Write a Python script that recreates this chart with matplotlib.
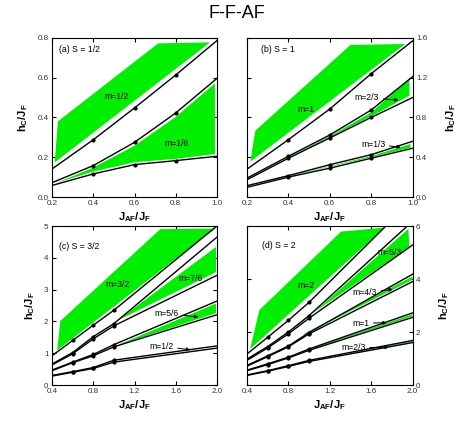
import matplotlib
matplotlib.use("Agg")
import matplotlib.pyplot as plt

plt.rcParams['font.family'] = ['Liberation Sans', 'DejaVu Sans']
plt.rcParams['mathtext.fontset'] = 'custom'
plt.rcParams['mathtext.rm'] = 'Liberation Sans'
plt.rcParams['mathtext.bf'] = 'Liberation Sans:bold'
plt.rcParams['mathtext.it'] = 'Liberation Sans:italic'

GREEN = '#00ee00'

# ---------------- data ----------------
# panel (a) S = 1/2
xa = [0.2, 0.4, 0.6, 0.8, 1.0]
a_l1 = [0.141, 0.288, 0.448, 0.614, 0.787]
a_l2 = [0.072, 0.158, 0.275, 0.423, 0.597]
a_l3 = [0.058, 0.116, 0.163, 0.183, 0.205]
a_g1_x = [0.213, 0.229, 0.715, 0.966]
a_g1_y = [0.174, 0.381, 0.773, 0.778]
a_g2_x = [0.22, 0.4, 0.6, 0.8, 0.99, 0.99, 0.8, 0.6, 0.4]
a_g2_y = [0.070, 0.148, 0.258, 0.403, 0.572, 0.216, 0.192, 0.175, 0.128]

# panel (b) S = 1
xb = [0.2, 0.4, 0.6, 0.8, 1.0]
b_l1 = [0.28, 0.577, 0.885, 1.24, 1.57]
b_l2 = [0.19, 0.41, 0.624, 0.875, 1.21]
b_l3 = [0.174, 0.39, 0.594, 0.80, 1.0]
b_l4 = [0.114, 0.215, 0.325, 0.426, 0.56]
b_l5 = [0.097, 0.20, 0.29, 0.39, 0.49]
b_g1_x = [0.216, 0.24, 0.70, 0.965]
b_g1_y = [0.356, 0.667, 1.53, 1.54]
b_g2_x = [0.4, 0.6, 0.8, 0.985, 0.985, 0.8, 0.6, 0.4]
b_g2_y = [0.40, 0.612, 0.85, 1.19, 1.02, 0.81, 0.602, 0.395]
b_g3_x = [0.4, 0.6, 0.8, 0.99, 0.99, 0.8, 0.6, 0.4]
b_g3_y = [0.21, 0.31, 0.412, 0.533, 0.495, 0.40, 0.305, 0.205]

# panel (c) S = 3/2
xc = [0.4, 0.6, 0.8, 1.0, 2.0]
c_l1 = [0.92, 1.40, 1.88, 2.35, 5.0]
c_l2 = [0.66, 1.02, 1.52, 1.93, 4.65]
c_l3 = [0.63, 0.98, 1.45, 1.86, 3.45]
c_l4 = [0.47, 0.72, 0.96, 1.27, 2.64]
c_l5 = [0.45, 0.70, 0.92, 1.20, 2.21]
c_l6 = [0.30, 0.42, 0.55, 0.78, 1.23]
c_l7 = [0.28, 0.40, 0.52, 0.72, 1.16]
c_g1_x = [0.45, 0.48, 1.45, 1.98]
c_g1_y = [1.09, 2.01, 4.90, 4.92]
c_g2_x = [1.03, 1.99, 1.99]
c_g2_y = [2.02, 4.34, 3.55]
c_g3_x = [1.01, 1.99, 1.99]
c_g3_y = [1.22, 2.56, 2.26]

# panel (d) S = 2
xd = [0.4, 0.6, 0.8, 1.0, 2.0]
d_l1_x = [0.4, 0.6, 0.8, 1.0, 1.73]
d_l1 = [1.17, 1.80, 2.44, 3.12, 5.95]
d_l2_x = [0.4, 0.6, 0.8, 1.0, 1.95]
d_l2 = [0.98, 1.45, 2.00, 2.62, 6.0]
d_l3 = [0.93, 1.40, 1.93, 2.52, 5.28]
d_l4 = [0.74, 1.10, 1.47, 1.98, 4.18]
d_l5 = [0.71, 1.07, 1.44, 1.93, 3.90]
d_l6 = [0.56, 0.80, 1.05, 1.36, 2.72]
d_l7 = [0.54, 0.77, 1.02, 1.31, 2.55]
d_l8 = [0.38, 0.54, 0.73, 0.93, 1.68]
d_l9 = [0.36, 0.52, 0.70, 0.89, 1.60]
d_g1_x = [0.43, 0.52, 1.31, 1.73]
d_g1_y = [1.36, 2.83, 5.79, 5.94]
d_g2_x = [1.04, 1.96, 1.97]
d_g2_y = [2.72, 5.89, 5.22]
d_g3_x = [0.95, 2.0, 2.0, 0.95]
d_g3_y = [1.93, 4.10, 3.97, 1.90]
d_g4_x = [1.0, 2.0, 2.0, 1.0]
d_g4_y = [1.35, 2.67, 2.59, 1.33]
d_g5_x = [1.4, 2.0, 2.0, 1.4]
d_g5_y = [1.21, 1.655, 1.625, 1.19]

# ---------------- figure ----------------
fig = plt.figure(figsize=(4.70, 4.23), dpi=100)
W, H = 470.0, 423.0

def mk_ax(l, r, t, b):
    return fig.add_axes([l / W, 1 - b / H, (r - l) / W, (b - t) / H])

axa = mk_ax(52, 217, 38, 197)
axb = mk_ax(247, 412.5, 38, 197)
axc = mk_ax(52, 217, 226, 385)
axd = mk_ax(247, 412.5, 226, 385)

fig.text(237 / W, 1 - 14 / H, 'F-F-AF', ha='center', va='center', fontsize=13)

XL = r'$\mathbf{J_{AF}/J_F}$'
YL = r'$\mathbf{h_C/J_F}$'


def line(ax, x, y, lw=1.0):
    ax.plot(x, y, color='black', lw=lw, marker='o', ms=2.0, markevery=list(range(1, len(x) - 1)),
            zorder=3, solid_joinstyle='round')


def green(ax, x, y):
    ax.fill(x, y, color=GREEN, lw=0, zorder=2)


def style(ax, xlim, ylim, xt, yt, xfmt, yfmt, right):
    ax.set_xlim(*xlim)
    ax.set_ylim(*ylim)
    ax.set_xticks(xt)
    ax.set_yticks(yt)
    ax.set_xticklabels([xfmt.format(v) for v in xt])
    ax.set_yticklabels([yfmt.format(v) for v in yt])
    ax.tick_params(direction='in', length=3, width=0.8, labelsize=5.8, labelcolor='#333333',
                   top=True, right=True, pad=2.5)
    if right:
        ax.yaxis.tick_right()
        ax.tick_params(axis='y', left=True, right=True, direction='in')
        ax.yaxis.set_label_position('right')
    for s in ax.spines.values():
        s.set_linewidth(0.8)
    ax.set_xlabel(XL, fontsize=8, labelpad=2)
    ax.set_ylabel(YL, fontsize=8, labelpad=5 if not right else 12, rotation=90)


def ann(ax, txt, xy, xytext):
    ax.annotate(txt, xy=xy, xytext=xytext, fontsize=6.2, ha='center', va='center', zorder=5,
                arrowprops=dict(arrowstyle='-|>', color='black', lw=0.7, mutation_scale=5,
                                shrinkA=1, shrinkB=0))

# (a)
green(axa, a_g1_x, a_g1_y)
green(axa, a_g2_x, a_g2_y)
for yy in (a_l1, a_l2, a_l3):
    line(axa, xa, yy)
style(axa, (0.2, 1.0), (0.0, 0.8), [0.2, 0.4, 0.6, 0.8, 1.0], [0.0, 0.2, 0.4, 0.6, 0.8],
      '{:.1f}', '{:.1f}', False)
axa.text(0.236, 0.74, '(a) S = 1/2', fontsize=6.3, va='center')
axa.text(0.513, 0.505, 'm=1/2', fontsize=6.2, ha='center', va='center')
axa.text(0.804, 0.27, 'm=1/6', fontsize=6.2, ha='center', va='center')

# (b)
green(axb, b_g1_x, b_g1_y)
green(axb, b_g2_x, b_g2_y)
green(axb, b_g3_x, b_g3_y)
for yy in (b_l1, b_l2, b_l3, b_l4, b_l5):
    line(axb, xb, yy)
style(axb, (0.2, 1.0), (0.0, 1.6), [0.2, 0.4, 0.6, 0.8, 1.0], [0.0, 0.4, 0.8, 1.2, 1.6],
      '{:.1f}', '{:.1f}', True)
axb.text(0.268, 1.48, '(b) S = 1', fontsize=6.3, va='center')
axb.text(0.483, 0.885, 'm=1', fontsize=6.2, ha='center', va='center')
ann(axb, 'm=2/3', (0.932, 0.975), (0.78, 1.0))
ann(axb, 'm=1/3', (0.943, 0.50), (0.81, 0.533))

# (c)
green(axc, c_g1_x, c_g1_y)
green(axc, c_g2_x, c_g2_y)
green(axc, c_g3_x, c_g3_y)
for yy in (c_l1, c_l2, c_l3, c_l4, c_l5, c_l6, c_l7):
    line(axc, xc, yy)
style(axc, (0.4, 2.0), (0, 5), [0.4, 0.8, 1.2, 1.6, 2.0], [0, 1, 2, 3, 4, 5],
      '{:.1f}', '{:d}', False)
axc.text(0.471, 4.36, '(c) S = 3/2', fontsize=6.3, va='center')
axc.text(1.04, 3.16, 'm=3/2', fontsize=6.2, ha='center', va='center')
axc.text(1.74, 3.36, 'm=7/6', fontsize=6.2, ha='center', va='center')
ann(axc, 'm=5/6', (1.82, 2.14), (1.51, 2.24))
ann(axc, 'm=1/2', (1.74, 1.11), (1.46, 1.22))

# (d)
green(axd, d_g1_x, d_g1_y)
green(axd, d_g2_x, d_g2_y)
green(axd, d_g3_x, d_g3_y)
green(axd, d_g4_x, d_g4_y)
green(axd, d_g5_x, d_g5_y)
line(axd, d_l1_x, d_l1)
line(axd, d_l2_x, d_l2)
for yy in (d_l3, d_l4, d_l5, d_l6, d_l7, d_l8, d_l9):
    line(axd, xd, yy)
style(axd, (0.4, 2.0), (0, 6), [0.4, 0.8, 1.2, 1.6, 2.0], [0, 2, 4, 6],
      '{:.1f}', '{:d}', True)
axd.text(0.548, 5.28, '(d) S = 2', fontsize=6.3, va='center')
axd.text(0.97, 3.74, 'm=2', fontsize=6.2, ha='center', va='center')
axd.text(1.78, 4.99, 'm=5/3', fontsize=6.2, ha='center', va='center', zorder=5)
ann(axd, 'm=4/3', (1.81, 3.61), (1.54, 3.48))
ann(axd, 'm=1', (1.75, 2.35), (1.50, 2.33))
ann(axd, 'm=2/3', (1.77, 1.42), (1.43, 1.41))

fig.savefig('out.png', dpi=100)
